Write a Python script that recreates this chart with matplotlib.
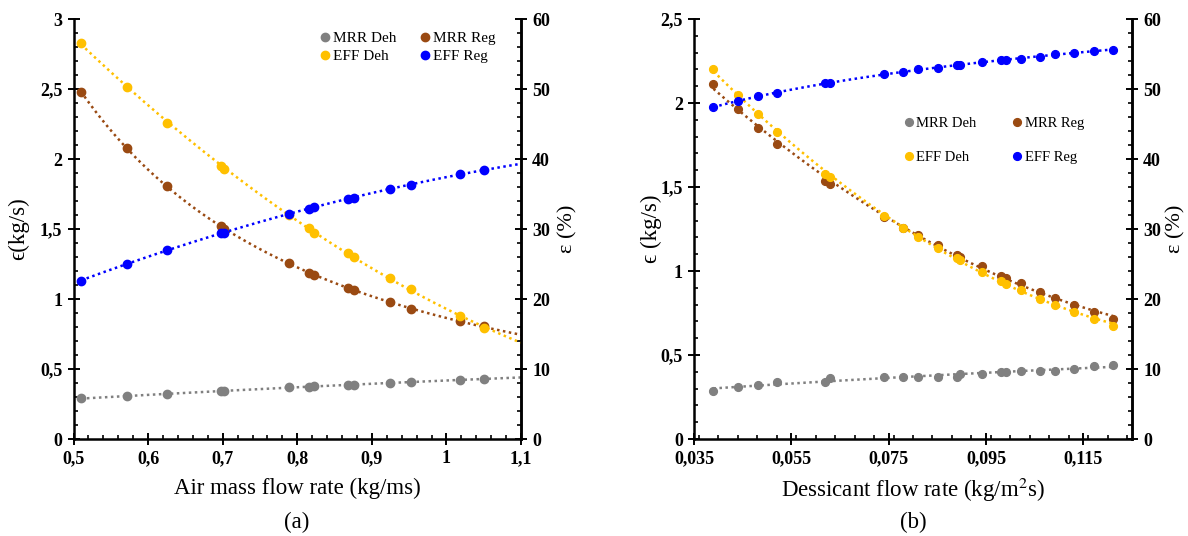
import numpy as np
import matplotlib
matplotlib.use("Agg")
import matplotlib.pyplot as plt
from matplotlib.ticker import MultipleLocator, FuncFormatter, FixedLocator

plt.rcParams['font.family'] = ['Liberation Serif', 'DejaVu Serif']
plt.rcParams['mathtext.fontset'] = 'stix'

# ---- (a) air mass flow rate ----
air_flow = [0.510, 0.572, 0.625, 0.698, 0.702, 0.789, 0.816, 0.823,
            0.868, 0.876, 0.924, 0.952, 1.018, 1.051]
a_mrr_deh = [0.291, 0.305, 0.319, 0.345, 0.345, 0.369, 0.369, 0.379,
             0.386, 0.386, 0.402, 0.409, 0.421, 0.429]
a_mrr_reg = [2.481, 2.079, 1.807, 1.519, 1.502, 1.255, 1.183, 1.169,
             1.079, 1.064, 0.976, 0.931, 0.841, 0.805]
a_eff_deh = [56.6, 50.3, 45.2, 38.96, 38.6, 32.0, 30.1, 29.5,
             26.6, 26.0, 23.0, 21.4, 17.6, 15.8]
a_eff_reg = [22.6, 25.0, 27.0, 29.5, 29.5, 32.2, 32.9, 33.1,
             34.3, 34.5, 35.7, 36.3, 37.8, 38.5]

# ---- (b) desiccant flow rate ----
des_flow = [0.0390, 0.0441, 0.0481, 0.0521, 0.0620, 0.0629, 0.0741, 0.0780,
            0.0810, 0.0851, 0.0891, 0.0897, 0.0942, 0.0980, 0.0991, 0.1021,
            0.1060, 0.1092, 0.1131, 0.1171, 0.1211]
b_mrr_deh = [0.287, 0.307, 0.319, 0.339, 0.339, 0.363, 0.372, 0.372,
             0.372, 0.372, 0.372, 0.387, 0.387, 0.399, 0.399, 0.406,
             0.406, 0.406, 0.418, 0.432, 0.438]
b_mrr_reg = [2.112, 1.967, 1.854, 1.757, 1.537, 1.519, 1.324, 1.255,
             1.214, 1.154, 1.095, 1.086, 1.027, 0.973, 0.961, 0.928,
             0.874, 0.842, 0.797, 0.755, 0.716]
b_eff_deh = [52.9, 49.2, 46.4, 43.9, 37.9, 37.4, 31.9, 30.1,
             28.9, 27.3, 25.8, 25.6, 23.9, 22.6, 22.2, 21.3,
             20.0, 19.2, 18.1, 17.2, 16.2]
b_eff_reg = [47.4, 48.3, 49.0, 49.4, 50.9, 50.9, 52.1, 52.4,
             52.8, 53.0, 53.4, 53.4, 53.9, 54.2, 54.2, 54.3,
             54.6, 55.0, 55.1, 55.5, 55.6]

legend_labels = ['MRR Deh', 'EFF Deh', 'MRR Reg', 'EFF Reg']
C_GRAY, C_BROWN, C_YELLOW, C_BLUE = '#808080', '#9A4A12', '#FFC000', '#0000FF'

W, H = 1188, 536
fig = plt.figure(figsize=(W / 100, H / 100), dpi=100)

TICK_FS = 13
LABEL_FS = 16.5


def dec_comma(v, pos):
    return ('%g' % round(v, 3)).replace('.', ',')


def trend(ax, x, y, color, x_end=None, kind='poly'):
    """Dotted trendline: quadratic polynomial, power law or logarithmic."""
    x = np.asarray(x)
    y = np.asarray(y)
    xe = x.max() if x_end is None else x_end
    xs = np.linspace(x.min(), xe, 200)
    if kind == 'power':
        b, a = np.polyfit(np.log(x), np.log(y), 1)
        ys = np.exp(a) * xs ** b
    elif kind == 'log':
        c = np.polyfit(np.log(x), y, 1)
        ys = np.polyval(c, np.log(xs))
    else:
        c = np.polyfit(x, y, 2)
        ys = np.polyval(c, xs)
    ax.plot(xs, ys, ls=(0, (1, 1.4)), lw=1.8, color=color, zorder=2)


def style(ax, ax2):
    for a in (ax, ax2):
        a.spines['top'].set_visible(False)
        for s in ('left', 'right', 'bottom'):
            a.spines[s].set_linewidth(1.8)
        a.tick_params(which='major', direction='inout', length=8, width=1.4,
                      labelsize=TICK_FS, pad=4)
        a.tick_params(which='minor', direction='in', length=3.2, width=1.2)
        for lab in a.get_xticklabels() + a.get_yticklabels():
            lab.set_fontweight('bold')
    ax.tick_params(axis='x', which='both', top=False)
    ax2.spines['left'].set_visible(False)
    ax2.spines['bottom'].set_visible(False)


def panel(rect, x, mrr_deh, mrr_reg, eff_deh, eff_reg, x_end, ms, kinds):
    ax = fig.add_axes(rect)
    ax2 = ax.twinx()
    h1, = ax.plot(x, mrr_deh, 'o', ms=ms, color=C_GRAY, zorder=3)
    h2, = ax.plot(x, mrr_reg, 'o', ms=ms, color=C_BROWN, zorder=3)
    h3, = ax2.plot(x, eff_deh, 'o', ms=ms, color=C_YELLOW, zorder=3)
    h4, = ax2.plot(x, eff_reg, 'o', ms=ms, color=C_BLUE, zorder=3)
    trend(ax, x, mrr_deh, C_GRAY, x_end, kinds[0])
    trend(ax, x, mrr_reg, C_BROWN, x_end, kinds[1])
    trend(ax2, x, eff_deh, C_YELLOW, x_end, kinds[2])
    trend(ax2, x, eff_reg, C_BLUE, x_end, kinds[3])
    return ax, ax2, [h1, h3, h2, h4]


# panel (a)
axA, axA2, hA = panel([73.5 / W, 97 / H, 447.5 / W, 420 / H], air_flow,
                      a_mrr_deh, a_mrr_reg, a_eff_deh, a_eff_reg, 1.1, 6.0,
                      ['poly', 'power', 'poly', 'poly'])
axA.set_xlim(0.5, 1.1)
axA.set_ylim(0, 3)
axA2.set_ylim(0, 60)
axA.xaxis.set_major_locator(FixedLocator([0.5, 0.6, 0.7, 0.8, 0.9, 1.0, 1.1]))
axA.xaxis.set_minor_locator(MultipleLocator(0.02))
axA.xaxis.set_major_formatter(FuncFormatter(dec_comma))
axA.yaxis.set_major_locator(MultipleLocator(0.5))
axA.yaxis.set_minor_locator(MultipleLocator(0.1))
axA.yaxis.set_major_formatter(FuncFormatter(dec_comma))
axA2.yaxis.set_major_locator(MultipleLocator(10))
axA2.yaxis.set_minor_locator(MultipleLocator(2))
style(axA, axA2)
axA.set_xlabel('Air mass flow rate (kg/ms)', fontsize=LABEL_FS, labelpad=8)
axA.set_ylabel('\u03f5(kg/s)', fontsize=16.5, labelpad=8)
axA2.set_ylabel('\u03b5 (%)', fontsize=16, labelpad=6)
axA2.legend(hA, legend_labels, ncol=2, frameon=False,
            loc='upper left', bbox_to_anchor=(0.532, 0.985), fontsize=11,
            handletextpad=0.0, handlelength=1.0, columnspacing=1.4,
            labelspacing=0.3, borderaxespad=0)
fig.text(297 / W, 1 - 522 / H, '(a)', ha='center', va='center', fontsize=LABEL_FS)

# panel (b)
axB, axB2, hB = panel([694 / W, 97 / H, 438 / W, 420 / H], des_flow,
                      b_mrr_deh, b_mrr_reg, b_eff_deh, b_eff_reg, None, 5.6,
                      ['poly', 'poly', 'poly', 'log'])
axB.set_xlim(0.035, 0.125)
axB.set_ylim(0, 2.5)
axB2.set_ylim(0, 60)
axB.xaxis.set_major_locator(FixedLocator([0.035, 0.055, 0.075, 0.095, 0.115]))
axB.xaxis.set_minor_locator(MultipleLocator(0.004))
axB.xaxis.set_major_formatter(FuncFormatter(lambda v, p: ('%.3f' % v).replace('.', ',')))
axB.yaxis.set_major_locator(MultipleLocator(0.5))
axB.yaxis.set_minor_locator(MultipleLocator(0.1))
axB.yaxis.set_major_formatter(FuncFormatter(dec_comma))
axB2.yaxis.set_major_locator(MultipleLocator(10))
axB2.yaxis.set_minor_locator(MultipleLocator(2))
style(axB, axB2)
axB.set_xlabel('Dessicant flow rate (kg/m$^2$s)', fontsize=LABEL_FS, labelpad=6)
axB.set_ylabel('\u03f5 (kg/s)', fontsize=16.5, labelpad=-1)
axB2.set_ylabel('\u03b5 (%)', fontsize=16, labelpad=4)
axB2.legend(hB, legend_labels, ncol=2, frameon=False,
            loc='upper left', bbox_to_anchor=(0.461, 0.78), fontsize=10.5,
            handletextpad=0.0, handlelength=1.0, columnspacing=2.3,
            labelspacing=1.4, borderaxespad=0)
fig.text(913 / W, 1 - 522 / H, '(b)', ha='center', va='center', fontsize=LABEL_FS)

fig.savefig('out.png', dpi=100)
